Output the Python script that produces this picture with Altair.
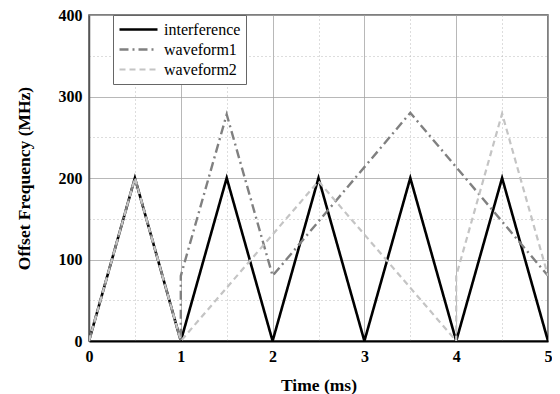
import altair as alt
import pandas as pd

# ---- data ----
t_interf = [0, 0.5, 1, 1.5, 2, 2.5, 3, 3.5, 4, 4.5, 5]
f_interf = [0, 200, 0, 200, 0, 200, 0, 200, 0, 200, 0]

t_w1 = [0, 0.5, 1, 1, 1.5, 2, 3.5, 5]
f_w1 = [0, 200, 0, 80, 278, 80, 280, 80]

t_w2 = [0, 0.5, 1, 2.5, 4, 4, 4.5, 5]
f_w2 = [0, 200, 0, 196, 0, 80, 279, 80]

series = ["interference", "waveform1", "waveform2"]
x_ticks = [0, 0.5, 1, 1.5, 2, 2.5, 3, 3.5, 4, 4.5, 5]
y_ticks = [0, 50, 100, 150, 200, 250, 300, 350, 400]

rows = []
for name, ts, fs in [(series[0], t_interf, f_interf),
                     (series[1], t_w1, f_w1),
                     (series[2], t_w2, f_w2)]:
    for i, (t, f) in enumerate(zip(ts, fs)):
        rows.append({"series": name, "t": t, "f": f, "i": i})
df = pd.DataFrame(rows)

FONT = "Liberation Serif"

grid_dash = {"condition": {"test": "datum.value % 1 !== 0", "value": [1, 3]}, "value": [1, 0]}
grid_dash_y = {"condition": {"test": "datum.value % 100 !== 0", "value": [1, 3]}, "value": [1, 0]}
grid_color = {"condition": {"test": "datum.value % 1 !== 0", "value": "#bbbbbb"}, "value": "#a0a0a0"}
grid_color_y = {"condition": {"test": "datum.value % 100 !== 0", "value": "#bbbbbb"}, "value": "#a0a0a0"}

legend_props = dict(title=None, orient="none", legendX=24, legendY=0,
                    symbolType="stroke", symbolSize=1444,
                    symbolStrokeWidth=2.2, clipHeight=19, rowPadding=1,
                    labelFont=FONT, labelFontSize=16, labelColor="#000000",
                    labelOffset=5, padding=5,
                    strokeColor="#666666", fillColor="#ffffff")

chart = alt.Chart(df).mark_line(strokeJoin="miter", clip=True).encode(
    x=alt.X("t:Q", scale=alt.Scale(domain=[0, 5], nice=False),
            axis=alt.Axis(values=x_ticks, title="Time (ms)", format="~g",
                          labelExpr="datum.value % 1 == 0 ? datum.label : ''",
                          grid=True, gridDash=grid_dash, gridColor=grid_color, gridWidth=1,
                          ticks=False, domain=True, domainColor="#000000", domainWidth=2,
                          labelFont=FONT, labelFontWeight="bold", labelFontSize=16,
                          labelColor="#000000", labelPadding=7, labelFlush=False,
                          titleFont=FONT, titleFontWeight="bold", titleFontSize=17.5,
                          titleColor="#000000", titlePadding=12)),
    y=alt.Y("f:Q", scale=alt.Scale(domain=[0, 400], nice=False),
            axis=alt.Axis(values=y_ticks, title="Offset Frequency (MHz)", format="d",
                          labelExpr="datum.value % 100 == 0 ? datum.label : ''",
                          grid=True, gridDash=grid_dash_y, gridColor=grid_color_y, gridWidth=1,
                          ticks=False, domain=True, domainColor="#555555", domainWidth=1.5,
                          labelFont=FONT, labelFontWeight="bold", labelFontSize=16,
                          labelColor="#000000", labelPadding=7, labelFlush=False,
                          titleFont=FONT, titleFontWeight="bold", titleFontSize=17.5,
                          titleColor="#000000", titlePadding=25)),
    color=alt.Color("series:N", scale=alt.Scale(domain=series,
                                                range=["#000000", "#808080", "#c4c4c4"]),
                    legend=alt.Legend(**legend_props)),
    strokeDash=alt.StrokeDash("series:N", scale=alt.Scale(domain=series,
                                                          range=[[1, 0], [9, 4, 2, 4], [6, 4]]),
                              legend=alt.Legend(**legend_props)),
    strokeWidth=alt.StrokeWidth("series:N", scale=alt.Scale(domain=series, range=[2.6, 2.2, 2.2]),
                                legend=None),
    order="i:Q",
).properties(
    width=459, height=326,
    autosize=alt.AutoSizeParams(type="none"),
    padding={"left": 81, "top": 7, "right": 4, "bottom": 53},
).configure(
    font=FONT
).configure_view(
    stroke="#555555", strokeWidth=1.5
).configure_legend(
    labelFont=FONT, labelFontSize=16, labelColor="#000000"
)

chart.save("out.html", embed_options={"renderer": "svg", "actions": False})
